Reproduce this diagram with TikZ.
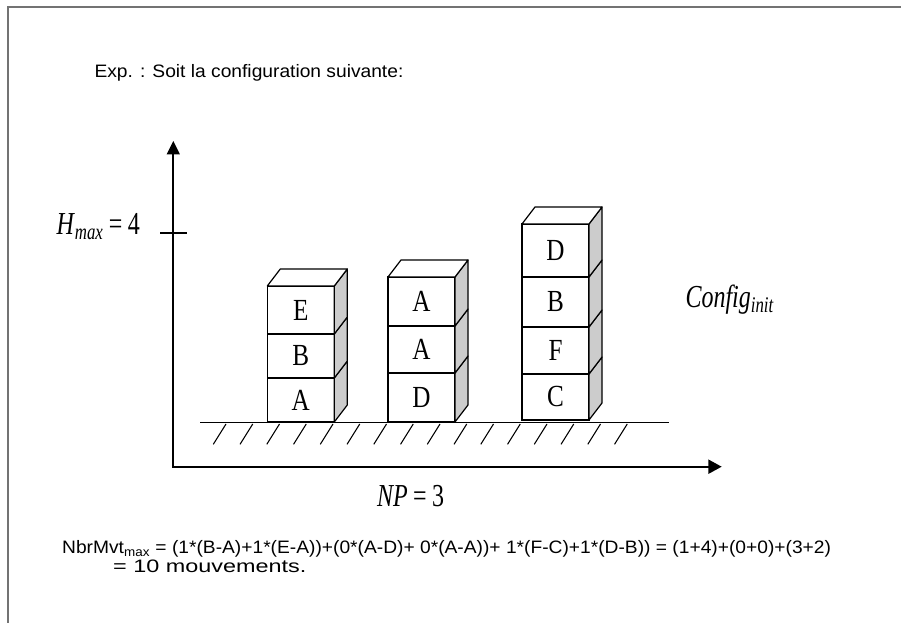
\documentclass[tikz,border=0pt]{standalone}
\usepackage{fontspec}
\newfontfamily\arl[FakeStretch=1.067]{Liberation Sans}
\newfontfamily\arlw[FakeStretch=1.3]{Liberation Sans}
\newfontfamily\tms[FakeStretch=0.75]{Liberation Serif}
\newfontfamily\tmsb[FakeStretch=0.82]{Liberation Serif}
\usetikzlibrary{positioning,calc,arrows.meta}

\tikzset{every picture/.style={line width=0.75pt}}

\begin{document}
\begin{tikzpicture}[x=0.75pt,y=0.75pt,yscale=-1,xscale=1,
  blk/.style={draw, fill=white, line width=0.9pt, minimum width=50.25pt, minimum height=#1, inner sep=0pt, outer sep=0pt, font=\tmsb\fontsize{23}{23}\selectfont},
  side/.style={draw, fill=black!20, line width=0.9pt, line join=round},
  topface/.style={draw, fill=white, line width=0.9pt, line join=round},
  axis/.style={line width=1.5pt},
  hatch/.style={line width=0.8pt}]
\useasboundingbox (0,0) rectangle (901,623);

%Straight Lines [frame]
\draw [color=black!55, line width=1.5pt]    (901,7.5) -- (7.5,7.5) -- (7.5,623) ;

%Straight Lines [axes]
\coordinate (O) at (173.3,466.7);
\coordinate (ytop) at (173.3,141);
\coordinate (xend) at (721.7,466.7);
\draw [axis, {Triangle[length=10pt,width=9.5pt]}-{Triangle[length=10pt,width=10.5pt]}]    (ytop) -- (O) -- (xend) ;
%Straight Lines [tick]
\draw [line width=1pt]    (160,233) -- (187,233) ;

%Straight Lines [ground]
\draw [line width=0.8pt]    (200,422.7) -- (669.3,422.7) ;
\foreach \i in {0,...,15}
  \draw [hatch]    (226+26.75*\i,424) -- ++(-12.7,20.3) ;

%Shape: Blocks, stack 1
\node [blk=33pt, anchor=south west] (s1a) at (267.3,422) {A};
\node [blk=33pt, above=0pt of s1a] (s1b) {B};
\node [blk=36pt, above=0pt of s1b] (s1e) {E};
%Shape: Blocks, stack 2
\node [blk=36.75pt, anchor=south west] (s2d) at (388,422) {D};
\node [blk=35.25pt, above=0pt of s2d] (s2a) {A};
\node [blk=36.75pt, above=0pt of s2a] (s2aa) {A};
%Shape: Blocks, stack 3
\node [blk=34.5pt, anchor=south west] (s3c) at (522,420) {C};
\node [blk=35.25pt, above=0pt of s3c] (s3f) {F};
\node [blk=37.5pt, above=0pt of s3f] (s3b) {B};
\node [blk=39.75pt, above=0pt of s3b] (s3d) {D};

%Shape: side and top faces
\foreach \b in {s1a,s1b,s1e,s2d,s2a,s2aa,s3c,s3f,s3b,s3d}
  \draw [side]    (\b.south east) -- ++(13,-17) -- ($(\b.north east)+(13,-17)$) -- (\b.north east) -- cycle ;
\foreach \b in {s1e,s2aa,s3d}
  \draw [topface]    (\b.north west) -- ++(13,-17) -- ($(\b.north east)+(13,-17)$) -- (\b.north east) -- cycle ;

% Text Node
\draw (94,78) node [anchor=base west][inner sep=0pt]  [font=\arl\fontsize{13.5}{16}\selectfont] (exp)  {Exp. : Soit la configuration suivante:};
% Text Node
\draw (56,234.3) node [anchor=base west][inner sep=0pt]  [font=\tms\fontsize{24}{26}\selectfont] (hmax)  {\textit{H}\textsubscript{\textit{max}}\,=\,4};
% Text Node
\draw (376.7,506.7) node [anchor=base west][inner sep=0pt]  [font=\tms\fontsize{24}{26}\selectfont] (np)  {\textit{NP}\,=\,3};
% Text Node
\draw (685,307.7) node [anchor=base west][inner sep=0pt]  [font=\tms\fontsize{24}{26}\selectfont] (cfg)  {\textit{Config}\textsubscript{\textit{init}}};
% Text Node
\draw (61.7,554) node [anchor=base west][inner sep=0pt]  [font=\arl\fontsize{13.5}{16}\selectfont] (nbr)  {NbrMvt\textsubscript{max} = (1*(B-A)+1*(E-A))+(0*(A-D)+ 0*(A-A))+ 1*(F-C)+1*(D-B)) = (1+4)+(0+0)+(3+2)};
% Text Node
\draw (112.7,572.5) node [anchor=base west][inner sep=0pt]  [font=\arlw\fontsize{13.5}{16}\selectfont] (tot)  {= 10 mouvements.};

\end{tikzpicture}
\end{document}
